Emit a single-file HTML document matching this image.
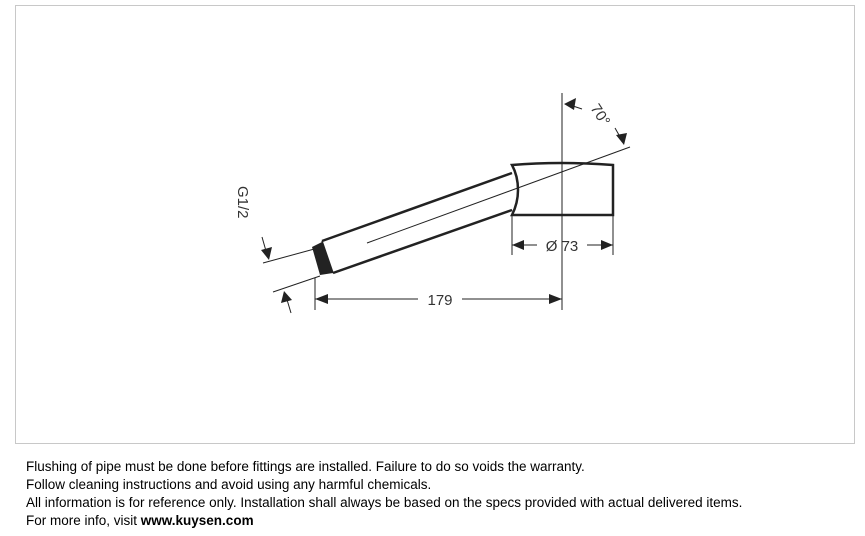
<!DOCTYPE html>
<html><head><meta charset="utf-8"><style>
body{margin:0;width:865px;height:536px;background:#fff;position:relative;overflow:hidden;font-family:"Liberation Sans",sans-serif}
#f{position:absolute;left:15px;top:5px;width:838px;height:437px;border:1px solid #c8c8c8}
#t{position:absolute;left:26px;top:458px;font-size:13.5px;line-height:18px;color:#000;letter-spacing:0}
svg{position:absolute;left:0;top:0}
</style></head><body>
<div id="f"></div>
<svg width="865" height="536" viewBox="0 0 865 536">
<g stroke="#222" fill="none" stroke-width="1">
<path d="M512 165 Q560 161 613 165 L613 215 L512 215 Q518 203 518 190 Q518 176 512 165Z" stroke-width="2.5"/>
<line x1="322" y1="241" x2="512" y2="173" stroke-width="2.5"/>
<line x1="333" y1="273" x2="512" y2="210" stroke-width="2.5"/>
<line x1="322" y1="241" x2="333" y2="273" stroke-width="1.5"/>
<line x1="367" y1="243" x2="630" y2="147"/>
<line x1="562" y1="93" x2="562" y2="310"/>
<line x1="263" y1="263" x2="318" y2="248"/>
<line x1="273" y1="292" x2="320" y2="276"/>
<line x1="315" y1="278" x2="315" y2="310"/>
<line x1="512" y1="215" x2="512" y2="255"/>
<line x1="613" y1="215" x2="613" y2="255"/>
<line x1="315" y1="299" x2="418" y2="299"/>
<line x1="462" y1="299" x2="562" y2="299"/>
<line x1="512" y1="245" x2="537" y2="245"/>
<line x1="587" y1="245" x2="613" y2="245"/>
<line x1="262" y1="237" x2="268" y2="258"/>
<line x1="285" y1="293" x2="291" y2="313"/>
<line x1="567" y1="104" x2="582" y2="109"/>
<line x1="623" y1="142" x2="615" y2="128"/>
</g>
<polygon points="312,247 322,242 333,273 320,275" fill="#222"/>
<g fill="#222">
<polygon points="315,299 328,294 328,304"/>
<polygon points="562,299 549,294 549,304"/>
<polygon points="512,245 524,240 524,250"/>
<polygon points="613,245 601,240 601,250"/>
<polygon points="269,260 261,250 272,247"/>
<polygon points="284,291 281,303 292,300"/>
<polygon points="564,104 576,98 574,110"/>
<polygon points="624,145 616,135 627,133"/>
</g>
<g font-family="Liberation Sans,sans-serif" font-size="15" fill="#333">
<text x="440" y="305" text-anchor="middle">179</text>
<text x="562" y="251" text-anchor="middle">Ø 73</text>
<text transform="translate(238,186) rotate(90)">G1/2</text>
<text transform="translate(590,108) rotate(57)">70°</text>
</g>
</svg>
<div id="t">Flushing of pipe must be done before fittings are installed. Failure to do so voids the warranty.<br>Follow cleaning instructions and avoid using any harmful chemicals.<br>All information is for reference only. Installation shall always be based on the specs provided with actual delivered items.<br>For more info, visit <b>www.kuysen.com</b></div>
</body></html>
